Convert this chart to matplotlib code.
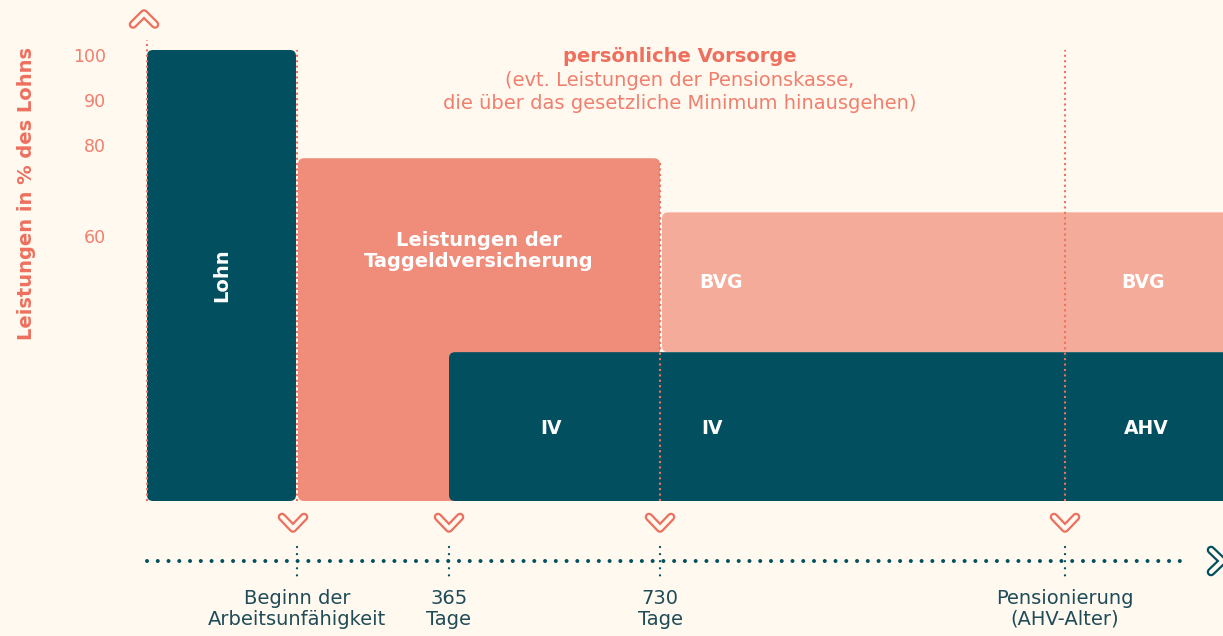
import matplotlib
matplotlib.use("Agg")
import matplotlib.pyplot as plt
from matplotlib.patches import FancyBboxPatch
import numpy as np

# ---------------- data ----------------
y_ticks = [100, 90, 80, 60]
y_label = "Leistungen in % des Lohns"

lohn_pct = 100
taggeld_pct = 76
bvg_pct = 64
iv_pct = 33

# schematic time axis positions
t_start = 147
t_end = 1223
milestone_pos = [297, 449, 660, 1065]
milestone_labels = ["Beginn der\nArbeitsunfähigkeit", "365\nTage", "730\nTage",
                    "Pensionierung\n(AHV-Alter)"]

block_labels = {
    "lohn": "Lohn",
    "taggeld": "Leistungen der\nTaggeldversicherung",
    "bvg": "BVG",
    "iv": "IV",
    "ahv": "AHV",
}
title = "persönliche Vorsorge"
subtitle = "(evt. Leistungen der Pensionskasse,\ndie über das gesetzliche Minimum hinausgehen)"

# ---------------- style ----------------
BG = "#FFF9EF"
TEAL = "#02505F"
SALMON = "#F08C7A"
LIGHT = "#F4AB99"
TXT_SALMON = "#EE6F5E"
TICK_SALMON = "#F07F6E"
DARK_TXT = "#1F4C58"
FONT = ["DejaVu Sans"]
plt.rcParams['font.family'] = FONT

W, H = 1223, 636
fig = plt.figure(figsize=(W / 100, H / 100), dpi=100, facecolor=BG)
ax = fig.add_axes([0, 0, 1, 1])
ax.set_facecolor(BG)
ax.axis("off")

ZERO_PX = 501.0
PX_PER_PCT = 4.51


def Y(py):
    """pixel row -> data (percent) coordinate"""
    return (ZERO_PX - py) / PX_PER_PCT


ax.set_xlim(0, W)
ax.set_ylim(Y(H), Y(0))
ASPECT = 1 / PX_PER_PCT


def block(x0, x1, y0, y1, color, z):
    p = FancyBboxPatch((x0, y0), x1 - x0, y1 - y0,
                       boxstyle="round,pad=0,rounding_size=6",
                       mutation_aspect=ASPECT, fc=color, ec="none", zorder=z)
    ax.add_patch(p)


gap = 2
# Lohn block
block(t_start, milestone_pos[0] - 1, 0, lohn_pct, TEAL, 2)
# Taggeld block
block(milestone_pos[0] + 1, milestone_pos[2], 0, taggeld_pct, SALMON, 2)
# BVG block
block(milestone_pos[2] + gap, t_end + 20, iv_pct, bvg_pct, LIGHT, 2)
# IV / AHV block
block(milestone_pos[1], t_end + 20, 0, iv_pct, TEAL, 3)

# block labels
bold = dict(color="white", fontweight="bold", ha="center", va="center", zorder=6)
ax.text((t_start + milestone_pos[0]) / 2, Y(275), block_labels["lohn"],
        rotation=90, fontsize=14, **bold)
ax.text((milestone_pos[0] + milestone_pos[2]) / 2, Y(251), block_labels["taggeld"],
        fontsize=14, linespacing=1.15, **bold)
ax.text(721, Y(282), block_labels["bvg"], fontsize=13.5, **bold)
ax.text(1143, Y(282), block_labels["bvg"], fontsize=13.5, **bold)
ax.text(551, Y(428), block_labels["iv"], fontsize=13.5, **bold)
ax.text(712, Y(428), block_labels["iv"], fontsize=13.5, **bold)
ax.text(1146, Y(428), block_labels["ahv"], fontsize=13.5, **bold)

# vertical salmon dotted lines
vdots = dict(color="#F0715F", lw=1.5, linestyle=(0, (1, 1.6)),
             dash_capstyle="butt", zorder=5)
ax.plot([t_start, t_start], [0, Y(40)], **vdots)
ax.plot([milestone_pos[0], milestone_pos[0]], [0, Y(50)], **vdots)
ax.plot([milestone_pos[2], milestone_pos[2]], [0, Y(162)], **vdots)
ax.plot([milestone_pos[3], milestone_pos[3]], [0, Y(50)], **vdots)

# y tick labels and axis label
for v in y_ticks:
    ax.text(106, v - 1.6, str(v), color=TICK_SALMON, fontsize=12.5,
            ha="right", va="center")
ax.text(27, Y(194), y_label, rotation=90, color=TXT_SALMON, fontsize=14,
        fontweight="bold", ha="center", va="center")

# header
ax.text(680, Y(57), title, color=TXT_SALMON, fontsize=14, fontweight="bold",
        ha="center", va="center")
ax.text(680, Y(92), subtitle, color=TICK_SALMON, fontsize=14,
        ha="center", va="center", linespacing=1.3)

# timeline
TL = 561
ax.plot([t_start, 1190], [Y(TL), Y(TL)], color=TEAL, lw=2.9,
        linestyle=(0, (0.001, 2.67)), dash_capstyle="round", zorder=4)
for x, lab in zip(milestone_pos, milestone_labels):
    ax.plot([x, x], [Y(547), Y(576)], color=TEAL, lw=1.7,
            linestyle=(0, (0.001, 3.0)), dash_capstyle="round", zorder=4)
    ax.text(x, Y(609), lab, color=DARK_TXT, fontsize=14, ha="center",
            va="center", linespacing=1.1)


def chevron(cx, cy, pts, color):
    xs = [cx + dx for dx, dy in pts]
    ys = [Y(cy + dy) for dx, dy in pts]
    ax.plot(xs, ys, color=color, lw=6.2, solid_capstyle="round",
            solid_joinstyle="round", zorder=7)
    ax.plot(xs, ys, color=BG, lw=3.0, solid_capstyle="round",
            solid_joinstyle="round", zorder=8)


down = [(-11, -6), (0, 5.5), (11, -6)]
up = [(-11, 5.5), (0, -5.5), (11, 5.5)]
right = [(-6, -11), (5.5, 0), (-6, 11)]
for x in milestone_pos:
    chevron(x - (4 if x == milestone_pos[0] else 0), 523, down, TXT_SALMON)
chevron(144, 19, up, TXT_SALMON)
chevron(1217, 561, right, TEAL)

fig.savefig("out.png", dpi=100, facecolor=BG)
